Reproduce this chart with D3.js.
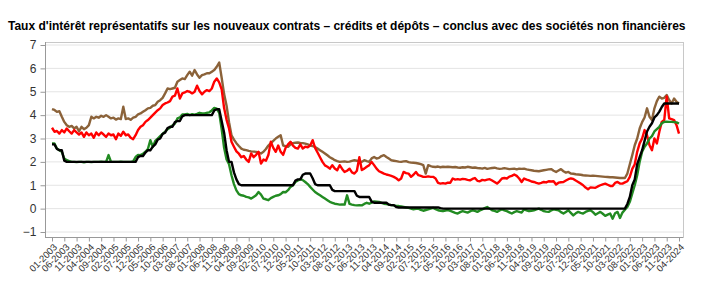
<!DOCTYPE html>
<html><head><meta charset="utf-8">
<script src="https://cdn.jsdelivr.net/npm/d3@7"></script>
<style>body{margin:0;background:#fff}svg{display:block;font-family:"Liberation Sans",Arial,sans-serif}</style>
</head><body><svg id="c" width="707" height="291"></svg>
<script>
const title = "Taux d'intérêt représentatifs sur les nouveaux contrats – crédits et dépôts – conclus avec des sociétés non financières";
const startYear = 2003, monthCount = 256; // 01-2003 .. 04-2024
const yTicks = [-1,0,1,2,3,4,5,6,7];
const xTickLabels = ["01-2003","06-2003","11-2003","04-2004","09-2004","02-2005","07-2005","12-2005","05-2006","10-2006","03-2007","08-2007","01-2008","06-2008","11-2008","04-2009","09-2009","02-2010","07-2010","12-2010","05-2011","10-2011","03-2012","08-2012","01-2013","06-2013","11-2013","04-2014","09-2014","02-2015","07-2015","12-2015","05-2016","10-2016","03-2017","08-2017","01-2018","06-2018","11-2018","04-2019","09-2019","02-2020","07-2020","12-2020","05-2021","10-2021","03-2022","08-2022","01-2023","06-2023","11-2023","04-2024"];

// brown series
const serieBrun = [
4.26,4.22,4.14,4.17,3.93,3.71,3.57,3.50,3.54,3.43,3.50,3.31,
3.50,3.40,3.46,3.57,3.93,3.86,3.93,3.89,3.97,3.93,4.00,3.93,
3.86,3.89,3.81,3.86,3.83,4.36,3.83,3.86,3.80,3.89,3.93,4.03,
4.07,4.14,4.21,4.29,4.31,4.40,4.43,4.57,4.64,4.74,4.93,5.14,
5.11,5.14,5.17,5.43,5.50,5.57,5.54,5.71,5.86,5.69,5.93,5.74,
5.60,5.71,5.74,5.79,5.79,5.86,5.93,6.07,6.25,5.60,4.90,4.40,
3.70,3.14,2.95,2.80,2.68,2.57,2.52,2.50,2.47,2.45,2.44,2.43,
2.40,2.36,2.43,2.55,2.70,2.80,2.90,3.00,3.07,3.14,2.70,2.67,
2.64,2.75,2.80,2.82,2.83,2.81,2.80,2.78,2.75,2.70,2.67,2.64,
2.57,2.50,2.43,2.36,2.28,2.20,2.14,2.07,2.03,2.00,2.01,2.02,
2.00,2.01,2.04,2.07,2.05,2.02,2.00,2.07,2.03,2.00,2.15,2.21,
2.14,2.17,2.25,2.29,2.21,2.14,2.07,2.05,2.03,2.01,2.00,2.02,
2.03,1.99,1.97,1.96,1.95,1.93,1.90,1.86,1.50,1.86,1.82,1.79,
1.78,1.80,1.77,1.79,1.78,1.79,1.78,1.77,1.78,1.76,1.75,1.77,
1.76,1.79,1.77,1.75,1.76,1.74,1.73,1.71,1.74,1.70,1.72,1.74,
1.75,1.72,1.70,1.71,1.73,1.71,1.69,1.70,1.71,1.68,1.71,1.70,
1.71,1.68,1.66,1.64,1.62,1.61,1.60,1.62,1.64,1.66,1.68,1.69,
1.62,1.57,1.63,1.69,1.60,1.54,1.57,1.50,1.49,1.47,1.46,1.45,
1.43,1.42,1.41,1.40,1.41,1.40,1.39,1.38,1.37,1.36,1.35,1.34,
1.34,1.33,1.32,1.31,1.31,1.31,1.50,1.90,2.29,2.71,3.00,3.43,
3.70,3.90,4.29,3.93,3.79,4.29,4.60,4.79,4.71,4.74,4.86,4.65,
4.50,4.71,4.57,4.50];

// red series
const serieRouge = [
3.46,3.29,3.32,3.21,3.36,3.26,3.43,3.31,3.21,3.36,3.26,3.17,
3.26,3.07,3.26,3.14,3.21,3.03,3.26,3.14,3.26,3.17,3.07,3.21,
3.14,3.17,2.97,3.21,3.11,3.29,3.14,3.17,3.03,2.97,3.14,3.36,
3.50,3.57,3.71,3.79,3.89,4.00,4.11,4.21,4.29,4.43,4.50,4.54,
4.60,4.79,4.83,5.14,4.71,4.93,4.97,5.03,5.00,4.93,5.00,5.26,
5.03,4.89,5.00,5.07,5.03,5.14,5.43,5.57,5.40,5.10,4.30,3.80,
3.43,2.86,2.65,2.45,2.35,2.20,2.25,2.10,2.00,2.36,2.20,2.30,
2.43,1.93,2.10,2.05,2.29,2.86,2.60,2.43,2.70,2.43,2.30,2.60,
2.75,2.86,2.70,2.60,2.57,2.75,2.57,2.65,2.62,2.70,2.93,2.60,
2.40,2.20,2.00,1.85,1.79,1.71,1.86,1.72,1.64,1.86,1.70,1.57,
1.62,1.71,1.55,1.50,1.62,2.20,1.65,1.71,1.79,1.86,2.00,1.86,
1.71,1.60,1.55,1.50,1.46,1.43,1.40,1.36,1.30,1.21,1.29,1.57,
1.52,1.50,1.36,1.45,1.57,1.43,1.40,1.36,1.36,1.38,1.36,1.36,
1.29,1.10,1.07,1.09,1.07,1.11,1.11,1.29,1.24,1.26,1.24,1.27,
1.26,1.23,1.21,1.27,1.31,1.19,1.17,1.23,1.21,1.24,1.26,1.20,
1.14,1.07,1.17,1.29,1.31,1.29,1.37,1.40,1.46,1.40,1.29,1.14,
1.29,1.24,1.21,1.16,1.14,1.10,1.07,1.10,1.14,1.12,1.17,1.16,
1.17,1.03,1.11,1.13,1.14,1.20,1.26,1.29,1.27,1.20,1.14,1.07,
1.00,0.90,0.83,0.91,0.90,0.89,0.95,1.00,1.04,1.07,1.02,0.97,
0.97,1.10,1.14,1.07,1.07,1.12,1.17,1.36,1.70,1.90,2.43,2.79,
3.00,3.36,3.14,2.71,2.50,3.00,2.79,3.29,3.71,3.79,4.80,3.86,
3.83,3.79,3.57,3.21];

// green series
const serieVerte = [
2.79,2.79,2.57,2.50,2.43,2.14,2.07,2.03,2.00,2.00,1.99,2.00,
2.00,1.98,2.00,2.00,1.99,2.00,2.00,2.00,2.01,2.00,2.00,2.29,
2.00,2.00,2.00,2.00,2.01,2.00,2.00,2.00,2.00,2.02,2.21,2.30,
2.29,2.35,2.43,2.55,2.93,2.64,2.90,3.00,3.10,3.20,3.29,3.40,
3.46,3.56,3.64,3.86,3.90,4.03,4.03,4.05,4.00,4.04,4.02,4.05,
4.10,4.07,4.07,4.10,4.12,4.20,4.31,4.28,4.10,3.40,2.60,2.10,
1.90,1.43,1.05,0.78,0.62,0.57,0.55,0.50,0.48,0.43,0.50,0.57,
0.71,0.60,0.43,0.40,0.36,0.45,0.50,0.55,0.57,0.62,0.71,0.70,
0.79,0.93,1.00,1.14,1.20,1.26,1.22,1.14,1.05,0.93,0.82,0.71,
0.64,0.57,0.50,0.43,0.36,0.29,0.25,0.21,0.19,0.17,0.18,0.17,
0.57,0.20,0.17,0.15,0.14,0.15,0.14,0.20,0.25,0.21,0.26,0.31,
0.30,0.29,0.25,0.21,0.19,0.17,0.15,0.14,0.12,0.11,0.09,0.07,
0.05,0.03,0.00,-0.03,-0.01,0.00,-0.05,-0.09,-0.06,-0.03,0.00,0.03,
-0.02,-0.07,-0.09,-0.11,-0.08,-0.06,-0.10,-0.14,-0.18,-0.21,-0.15,-0.11,
-0.14,-0.17,-0.12,-0.07,-0.10,-0.14,-0.08,-0.03,0.02,0.07,0.00,-0.07,
-0.10,-0.14,-0.08,-0.03,-0.07,-0.11,-0.16,-0.21,-0.15,-0.11,-0.14,-0.17,
-0.03,-0.07,-0.11,-0.09,-0.07,-0.03,0.00,-0.05,-0.11,-0.13,-0.14,-0.08,
-0.03,-0.05,-0.07,-0.15,-0.21,-0.14,-0.07,-0.18,-0.29,-0.20,-0.14,-0.18,
-0.21,-0.14,-0.10,-0.07,-0.15,-0.26,-0.20,-0.14,-0.22,-0.31,-0.26,-0.21,
-0.43,-0.20,-0.14,-0.40,-0.17,-0.05,0.07,0.29,0.65,1.00,1.43,2.00,
2.43,2.65,2.79,3.00,3.10,3.30,3.40,3.50,3.65,3.71,3.72,3.71,
3.71,3.70,3.69,3.64];

// black series (step rate)
const serieNoire = [
2.75,2.75,2.55,2.50,2.50,2.05,2.00,2.00,2.00,2.00,2.00,2.00,
2.00,2.00,2.00,2.00,2.00,2.00,2.00,2.00,2.00,2.00,2.00,2.00,
2.00,2.00,2.00,2.00,2.00,2.00,2.00,2.00,2.00,2.00,2.00,2.20,
2.25,2.25,2.40,2.50,2.50,2.65,2.75,2.95,3.00,3.20,3.25,3.45,
3.50,3.50,3.70,3.75,3.75,3.95,4.00,4.00,4.00,4.00,4.00,4.00,
4.00,4.00,4.00,4.00,4.00,4.00,4.20,4.25,4.25,3.75,3.25,2.50,
2.00,2.00,1.55,1.25,1.05,1.00,1.00,1.00,1.00,1.00,1.00,1.00,
1.00,1.00,1.00,1.00,1.00,1.00,1.00,1.00,1.00,1.00,1.00,1.00,
1.00,1.00,1.00,1.20,1.25,1.25,1.45,1.50,1.50,1.50,1.30,1.05,
1.00,1.00,1.00,1.00,1.00,1.00,0.80,0.75,0.75,0.75,0.75,0.75,
0.75,0.75,0.75,0.75,0.55,0.50,0.50,0.50,0.50,0.50,0.30,0.25,
0.25,0.25,0.25,0.25,0.25,0.17,0.15,0.15,0.07,0.05,0.05,0.05,
0.05,0.05,0.05,0.05,0.05,0.05,0.05,0.05,0.05,0.05,0.05,0.05,
0.05,0.05,0.02,0.00,0.00,0.00,0.00,0.00,0.00,0.00,0.00,0.00,
0.00,0.00,0.00,0.00,0.00,0.00,0.00,0.00,0.00,0.00,0.00,0.00,
0.00,0.00,0.00,0.00,0.00,0.00,0.00,0.00,0.00,0.00,0.00,0.00,
0.00,0.00,0.00,0.00,0.00,0.00,0.00,0.00,0.00,0.00,0.00,0.00,
0.00,0.00,0.00,0.00,0.00,0.00,0.00,0.00,0.00,0.00,0.00,0.00,
0.00,0.00,0.00,0.00,0.00,0.00,0.00,0.00,0.00,0.00,0.00,0.00,
0.00,0.00,0.00,0.00,0.00,0.00,0.20,0.50,1.00,1.25,1.90,2.20,
2.50,2.90,3.30,3.50,3.65,3.90,4.00,4.15,4.35,4.50,4.50,4.50,
4.50,4.50,4.50,4.50];

const series = [
  {name:"brun", values:serieBrun, color:"#8b6239"},
  {name:"rouge", values:serieRouge, color:"#ff0000"},
  {name:"verte", values:serieVerte, color:"#228b22"},
  {name:"noire", values:serieNoire, color:"#000000"}
];

const svg = d3.select("#c");
const L = 45, R = 683, T = 42, B = 237;
const x = d3.scaleLinear().domain([0, monthCount-1]).range([52, 679]);
const y = d3.scaleLinear().domain([-1, 7]).range([232, 45]);
const monthIndex = s => { const [mm, yy] = s.split("-").map(Number); return (yy - startYear)*12 + (mm - 1); };

// title: fit into the available width
const t = svg.append("text").attr("x", 8).attr("y", 30).attr("font-weight", "bold")
  .attr("font-family", "'Liberation Sans Narrow','Liberation Sans',Arial,sans-serif")
  .attr("fill", "#000").text(title);
let fs = 13.5;
t.attr("font-size", fs);
while (t.node().getComputedTextLength() > 682 && fs > 8) { fs -= 0.25; t.attr("font-size", fs); }
const w = t.node().getComputedTextLength();
if (w < 670) t.attr("textLength", 680).attr("lengthAdjust", "spacing");

// grid
svg.append("g").selectAll("line").data(yTicks).join("line")
  .attr("x1", L).attr("x2", R).attr("y1", d => y(d)).attr("y2", d => y(d))
  .attr("stroke", "#e4e4e4").attr("stroke-width", 1);

// frame
svg.append("rect").attr("x", L+0.5).attr("y", T+0.5).attr("width", R-L).attr("height", B-T)
  .attr("fill", "none").attr("stroke", "#c8c8c8");

// y axis
const ya = svg.append("g").attr("transform", `translate(${L+0.5},0)`)
  .call(d3.axisLeft(y).tickValues(yTicks).tickSize(5).tickPadding(4).tickFormat(d3.format("d")));
ya.select(".domain").attr("stroke", "#999").attr("d", `M0,${T}V${B}`);
ya.selectAll(".tick line").attr("stroke", "#999");
ya.selectAll("text").attr("font-size", 12).attr("fill", "#333").attr("font-family", "Liberation Sans, Arial, sans-serif");

// x axis
const xa = svg.append("g").attr("transform", `translate(0,${B+0.5})`)
  .call(d3.axisBottom(x).tickValues(xTickLabels.map(monthIndex)).tickSize(4)
    .tickFormat((d, i) => xTickLabels[i]));
xa.select(".domain").attr("stroke", "#999").attr("d", `M${L},0H${R}`);
xa.selectAll(".tick line").attr("stroke", "#999");
xa.selectAll("text").attr("font-size", 9.5).attr("fill", "#333").attr("font-family", "Liberation Sans, Arial, sans-serif")
  .attr("text-anchor", "end").attr("dy", null).attr("y", null)
  .attr("transform", "translate(3,8) rotate(-45)").attr("dy", "0.35em");

// lines
const line = d3.line().x((d, i) => x(i)).y(d => y(d));
svg.append("g").selectAll("path").data(series).join("path")
  .attr("d", d => line(d.values)).attr("fill", "none")
  .attr("stroke", d => d.color).attr("stroke-width", 2.4).attr("stroke-linejoin", "round");
</script></body></html>
